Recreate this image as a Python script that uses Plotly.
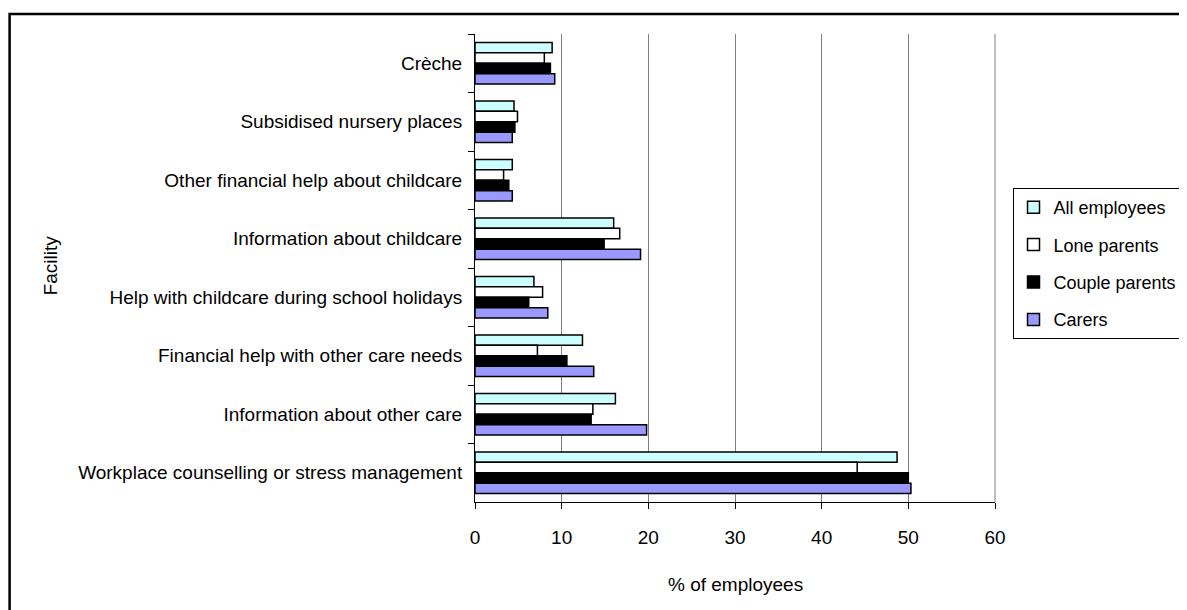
import plotly.graph_objects as go

# facilities, top to bottom as in the chart
facilities = [
    "Crèche",
    "Subsidised nursery places",
    "Other financial help about childcare",
    "Information about childcare",
    "Help with childcare during school holidays",
    "Financial help with other care needs",
    "Information about other care",
    "Workplace counselling or stress management",
]

all_employees = [8.9, 4.5, 4.3, 16.0, 6.8, 12.4, 16.2, 48.7]
lone_parents = [8.0, 4.9, 3.3, 16.7, 7.8, 7.2, 13.6, 44.1]
couple_parents = [8.7, 4.6, 3.9, 14.9, 6.2, 10.6, 13.4, 50.0]
carers = [9.2, 4.3, 4.3, 19.1, 8.4, 13.7, 19.8, 50.3]

series = [
    ("All employees", all_employees, "#CCFFFF"),
    ("Lone parents", lone_parents, "#FFFFFF"),
    ("Couple parents", couple_parents, "#000000"),
    ("Carers", carers, "#9999FF"),
]

font = "Liberation Sans, Arial, sans-serif"

fig = go.Figure()
for name, vals, col in series:
    fig.add_trace(go.Bar(
        y=facilities, x=vals, name=name, orientation="h", legendgroup=name,
        marker=dict(color=col, line=dict(color="black", width=1.5)),
    ))

# page body adds 8px margin, so the figure is a bit smaller than the window
fig.update_layout(
    width=1179, height=602,
    barmode="group", bargap=0.29, bargroupgap=0,
    paper_bgcolor="white", plot_bgcolor="white",
    margin=dict(l=467, r=192, t=26, b=108, autoexpand=False),
    font=dict(family=font, size=19, color="black"),
    showlegend=True,
    legend=dict(
        xref="container", yref="container",
        x=0.852, y=0.701, xanchor="left", yanchor="top",
        bordercolor="black", borderwidth=1, bgcolor="white",
        font=dict(size=18), traceorder="grouped", tracegroupgap=11,
        itemwidth=30,
    ),
)

fig.update_xaxes(
    range=[0, 60], dtick=10, showgrid=True, gridcolor="#808080", gridwidth=1,
    showline=True, linecolor="black", linewidth=1,
    ticks="outside", ticklen=6, tickcolor="black",
    zeroline=False, ticklabelstandoff=12,
)
fig.update_yaxes(
    autorange="reversed", showline=True, linecolor="black", linewidth=1,
    ticks="outside", ticklen=6, tickcolor="black", tickson="boundaries",
    showgrid=False, ticklabelstandoff=8,
)

# right edge of plot area
fig.add_shape(type="line", xref="paper", yref="paper", x0=1, x1=1, y0=0, y1=1,
              line=dict(color="#808080", width=1))

# outer chart frame (right and bottom edges fall outside the picture)
fig.add_shape(type="rect", xref="paper", yref="paper",
              x0=-0.895, x1=1.38, y0=-0.25, y1=1.043,
              line=dict(color="black", width=2.5), layer="below")

fig.add_annotation(text="Facility", xref="paper", yref="paper", x=-0.817, y=0.506,
                   xanchor="center", yanchor="middle",
                   textangle=-90, showarrow=False, font=dict(size=19))
fig.add_annotation(text="% of employees", xref="paper", yref="paper", x=0.5, y=-0.176,
                   xanchor="center", yanchor="middle",
                   showarrow=False, font=dict(size=19))

fig.write_html("out.html")
